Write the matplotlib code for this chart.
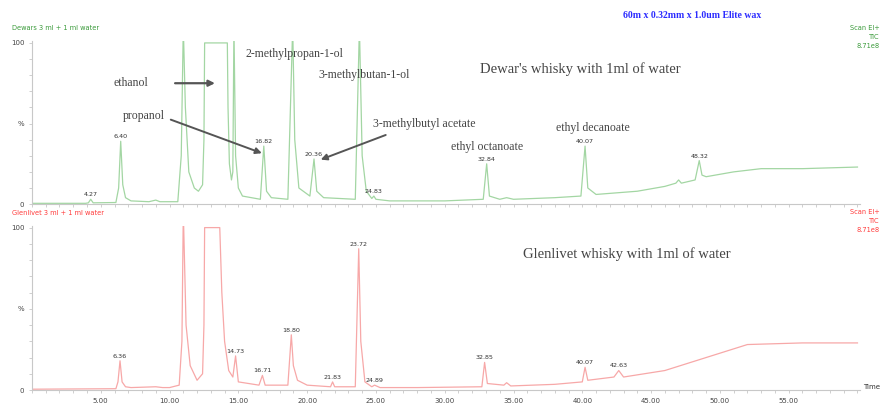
import numpy as np
import matplotlib.pyplot as plt
from matplotlib.ticker import MultipleLocator, FixedLocator

# Dewar's trace (time in min, % of 8.71e8)
dewar_t = [0.0, 3.9, 4.1, 4.27, 4.45, 6.1, 6.3, 6.45, 6.6, 6.8, 7.2, 8.5, 9.0, 9.3,
           10.6, 10.85, 11.0, 11.15, 11.4, 11.8, 12.1, 12.4, 12.5, 12.55, 14.2, 14.25,
           14.35, 14.5, 14.6, 14.68, 14.8, 15.0, 15.3, 16.6, 16.85, 17.05, 17.4, 18.6,
           18.95, 19.1, 19.4, 20.2, 20.5, 20.7, 21.2, 23.5, 23.8, 24.0, 24.3, 24.7,
           24.85, 25.0, 26.0, 30.0, 32.8, 33.05, 33.25, 34.0, 34.5, 35.0, 38.0, 39.9,
           40.2, 40.4, 41.0, 44.0, 46.0, 46.8, 47.0, 47.2, 48.2, 48.5, 48.7, 49.0,
           51.0, 53.0, 56.0, 60.0]
dewar_y = [0.5, 0.5, 0.8, 3.0, 0.8, 1.0, 10.0, 39.0, 12.0, 4.0, 2.0, 1.5, 2.5, 1.5,
           1.5, 30.0, 110.0, 60.0, 20.0, 10.0, 8.0, 12.0, 40.0, 100.0, 100.0, 60.0,
           25.0, 15.0, 20.0, 110.0, 30.0, 10.0, 5.0, 3.0, 36.0, 8.0, 4.0, 3.0,
           110.0, 40.0, 10.0, 5.0, 28.0, 8.0, 4.0, 3.0, 110.0, 30.0, 8.0, 3.5,
           5.0, 3.0, 2.0, 2.0, 3.0, 25.0, 5.0, 3.0, 4.0, 3.0, 4.0, 5.0,
           36.0, 10.0, 6.0, 8.0, 11.0, 13.0, 15.0, 13.0, 15.0, 27.0, 18.0, 17.0,
           20.0, 22.0, 22.0, 23.0]

# Glenlivet trace
glen_t = [0.0, 6.1, 6.25, 6.4, 6.55, 6.8, 7.2, 9.0, 9.5, 10.0, 10.7, 10.9, 11.0,
          11.2, 11.5, 12.0, 12.4, 12.5, 12.55, 13.65, 13.8, 14.0, 14.3, 14.6, 14.8,
          15.0, 16.5, 16.75, 16.95, 18.6, 18.85, 19.0, 19.3, 20.0, 21.7, 21.85, 22.0,
          23.5, 23.75, 23.9, 24.2, 24.7, 24.9, 25.3, 28.0, 32.7, 32.9, 33.1, 34.3,
          34.5, 34.8, 38.0, 40.0, 40.2, 40.4, 42.3, 42.65, 43.0, 46.0, 49.0, 52.0,
          56.0, 60.0]
glen_y = [0.5, 0.8, 5.0, 18.0, 5.0, 2.0, 1.5, 2.0, 1.5, 1.5, 3.0, 30.0, 110.0,
          40.0, 15.0, 6.0, 10.0, 40.0, 100.0, 100.0, 60.0, 30.0, 12.0, 8.0, 21.0,
          5.0, 3.0, 9.0, 3.0, 3.0, 34.0, 15.0, 6.0, 3.0, 2.0, 5.0, 2.0,
          2.0, 87.0, 30.0, 5.0, 2.0, 3.0, 1.5, 1.5, 2.0, 17.0, 4.0, 3.0,
          4.5, 2.5, 3.5, 5.0, 14.0, 6.0, 8.0, 12.0, 8.0, 12.0, 20.0, 28.0,
          29.0, 29.0]

dewar_peaks = [(4.27, 3.0, '4.27'), (6.45, 39.0, '6.40'), (16.85, 36.0, '16.82'),
               (20.5, 28.0, '20.36'), (24.85, 5.0, '24.83'), (33.05, 25.0, '32.84'),
               (40.2, 36.0, '40.07'), (48.5, 27.0, '48.32')]
glen_peaks = [(6.4, 18.0, '6.36'), (14.8, 21.0, '14.73'), (16.75, 9.0, '16.71'),
              (18.85, 34.0, '18.80'), (21.85, 5.0, '21.83'), (23.75, 87.0, '23.72'),
              (24.9, 3.0, '24.89'), (32.9, 17.0, '32.85'), (40.2, 14.0, '40.07'),
              (42.65, 12.0, '42.63')]

green = '#a3d6a3'
red = '#f7a8a8'
serif = ['Liberation Serif', 'DejaVu Serif']
ann_col = '#444444'


def style_axes(ax, show_labels):
    ax.set_xlim(0, 60.2)
    ax.set_ylim(0, 101)
    for s in ['top', 'right']:
        ax.spines[s].set_visible(False)
    for s in ['left', 'bottom']:
        ax.spines[s].set_color('#c8c8c8')
        ax.spines[s].set_linewidth(0.8)
    ax.yaxis.set_major_locator(FixedLocator([0, 50, 100]))
    ax.set_yticklabels(['0', '%', '100'])
    ax.yaxis.set_minor_locator(MultipleLocator(10))
    ax.xaxis.set_major_locator(FixedLocator([5, 10, 15, 20, 25, 30, 35, 40, 45, 50, 55]))
    ax.xaxis.set_minor_locator(MultipleLocator(1))
    ax.tick_params(axis='both', which='both', colors='#c8c8c8', labelcolor='#444444',
                   labelsize=5, length=2.5, width=0.6, pad=3)
    if show_labels:
        ax.set_xticklabels(['%.2f' % v for v in [5, 10, 15, 20, 25, 30, 35, 40, 45, 50, 55]])
    else:
        ax.set_xticklabels([])


def label_peaks(ax, peaks):
    for t, h, txt in peaks:
        ax.annotate(txt, (t, h), xytext=(0, 1.5), textcoords='offset points',
                    ha='center', va='bottom', fontsize=4.6, color='#333333')


fig = plt.figure(figsize=(8.83, 4.05), dpi=100)
ax1 = fig.add_axes([0.0362, 0.496, 0.938, 0.402])
ax2 = fig.add_axes([0.0362, 0.037, 0.938, 0.405])

ax1.plot(dewar_t, dewar_y, color=green, lw=0.9)
ax2.plot(glen_t, glen_y, color=red, lw=0.9)
style_axes(ax1, False)
style_axes(ax2, True)
label_peaks(ax1, dewar_peaks)
label_peaks(ax2, glen_peaks)

# compound annotations on Dewar's panel
ax1.text(7.2, 75, 'ethanol', family=serif, fontsize=8.5, color=ann_col, ha='center', va='center')
ax1.annotate('', xy=(13.5, 75), xytext=(10.2, 75),
             arrowprops=dict(arrowstyle='-|>', color='#555555', lw=1.6, mutation_scale=9))
ax1.text(15.5, 93, '2-methylpropan-1-ol', family=serif, fontsize=8.5, color=ann_col, va='center')
ax1.text(20.85, 80, '3-methylbutan-1-ol', family=serif, fontsize=8.5, color=ann_col, va='center')
ax1.text(32.6, 83.5, "Dewar's whisky with 1ml of water", family=serif, fontsize=10.5,
         color=ann_col, va='center')
ax1.text(6.6, 54.6, 'propanol', family=serif, fontsize=8.5, color=ann_col, va='center')
ax1.annotate('', xy=(16.9, 31), xytext=(9.9, 53),
             arrowprops=dict(arrowstyle='-|>', color='#555555', lw=1.4, mutation_scale=9))
ax1.text(24.8, 50, '3-methylbutyl acetate', family=serif, fontsize=8.5, color=ann_col, va='center')
ax1.annotate('', xy=(20.8, 27), xytext=(25.9, 43.5),
             arrowprops=dict(arrowstyle='-|>', color='#555555', lw=1.4, mutation_scale=9))
ax1.text(33.1, 35.5, 'ethyl octanoate', family=serif, fontsize=8.5, color=ann_col,
         ha='center', va='center')
ax1.text(40.75, 47.5, 'ethyl decanoate', family=serif, fontsize=8.5, color=ann_col,
         ha='center', va='center')

ax2.text(35.7, 83.4, 'Glenlivet whisky with 1ml of water', family=serif, fontsize=10.5,
         color=ann_col, va='center')

# instrument header texts
fig.text(0.784, 1 - 15 / 405, '60m x 0.32mm x 1.0um Elite wax', family=serif, fontsize=7,
         fontweight='bold', color='#2b2bff', ha='center', va='center')
fig.text(12 / 883, 1 - 28 / 405, 'Dewars 3 ml + 1 ml water', fontsize=4.8, color='#3a9a3a',
         va='center')
fig.text(12 / 883, 1 - 213 / 405, 'Glenlivet 3 ml + 1 ml water', fontsize=4.8, color='#ff3b3b',
         va='center')
for i, s in enumerate(['Scan EI+', 'TIC', '8.71e8']):
    fig.text(880 / 883, 1 - (28 + 9 * i) / 405, s, fontsize=4.8, color='#3a9a3a',
             ha='right', va='center')
    fig.text(880 / 883, 1 - (212 + 9 * i) / 405, s, fontsize=4.8, color='#ff3b3b',
             ha='right', va='center')
fig.text(880 / 883, 1 - 387 / 405, 'Time', fontsize=5, color='#333333', ha='right', va='center')

fig.savefig('out.png', dpi=100)
